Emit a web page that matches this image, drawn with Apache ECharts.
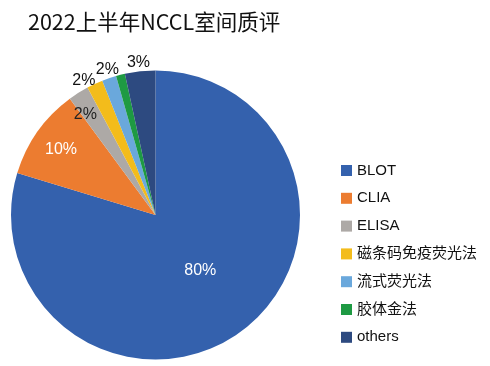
<!DOCTYPE html>
<html>
<head>
<meta charset="utf-8">
<script src="https://cdn.jsdelivr.net/npm/echarts@6/dist/echarts.min.js"></script>
<style>html,body{margin:0;padding:0;background:#fff;}#c{width:490px;height:366px;}</style>
</head>
<body>
<div id="c"></div>
<script>
var titleText = '2022上半年NCCL室间质评';
var categories = ['BLOT', 'CLIA', 'ELISA', '磁条码免疫荧光法', '流式荧光法', '胶体金法', 'others'];
var values = [79.7, 10.2, 2.3, 1.8, 1.6, 1.0, 3.4];

var colors = ['#3461AD', '#EC7C30', '#ADA9A6', '#F3BC1B', '#6AA8DC', '#1E9A43', '#2D4A80'];
var labelOffsets = [[0, -5], [-33, -22], [-30, -37], [-40, -66], [-24, -74], [0, 0], [-9, -78]];
var labelColors = ['#fff', '#fff', '#222', '#111', '#111', '#111', '#111'];
var labelShown = [true, true, true, true, true, false, true];

var FONT = "'Liberation Sans', 'Noto Sans CJK SC', sans-serif";

var data = categories.map(function (name, i) {
  return {
    name: name,
    value: values[i],
    itemStyle: { color: colors[i] },
    label: { show: labelShown[i], offset: labelOffsets[i], color: labelColors[i] }
  };
});

var chart = echarts.init(document.getElementById('c'));
chart.setOption({
  animation: false,
  title: {
    text: titleText,
    left: 23,
    top: 6,
    textStyle: { fontSize: 21.5, fontWeight: 'normal', color: '#111', fontFamily: "'Noto Sans CJK SC', sans-serif" }
  },
  legend: {
    orient: 'vertical',
    left: 336,
    top: 158,
    icon: 'rect',
    itemWidth: 11,
    itemHeight: 11,
    itemGap: 12.8,
    textStyle: { fontSize: 15, color: '#111', fontFamily: FONT },
    data: categories
  },
  series: [{
    type: 'pie',
    center: [155.5, 215],
    radius: [0, 144.5],
    startAngle: 90,
    clockwise: true,
    avoidLabelOverlap: false,
    data: data,
    label: {
      position: 'inside',
      fontSize: 16,
      fontFamily: FONT,
      formatter: function (p) { return Math.round(p.percent) + '%'; }
    },
    labelLine: { show: false },
    emphasis: { disabled: true }
  }]
});
</script>
</body>
</html>
